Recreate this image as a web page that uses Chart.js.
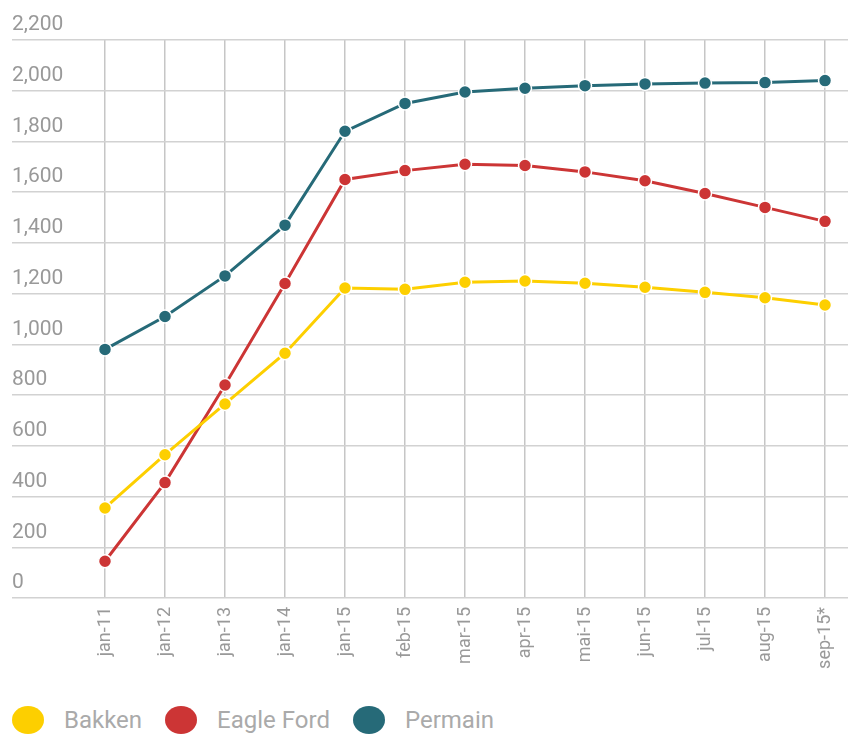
<!DOCTYPE html>
<html>
<head>
<meta charset="utf-8">
<script src="https://cdn.jsdelivr.net/npm/chart.js@4.4.0/dist/chart.umd.min.js"></script>
<style>
  html, body { margin: 0; padding: 0; background: #fff; }
  body { width: 848px; height: 734px; overflow: hidden; position: relative; font-family: Roboto, sans-serif; }
  #wrap { position: absolute; left: 0; top: 0; width: 848px; height: 690px; }
  #legend { position: absolute; left: 12px; top: 706px; display: flex; align-items: center; height: 28px; }
  .item { display: flex; align-items: center; margin-right: 23px; }
  .dot { width: 32px; height: 28px; border-radius: 50%; margin-right: 20px; }
  .txt { font-size: 24px; color: #aaaaaa; white-space: nowrap; }
</style>
</head>
<body>
<div id="wrap"><canvas id="production"></canvas></div>
<div id="legend"></div>
<script>
  var months = ["jan-11", "jan-12", "jan-13", "jan-14", "jan-15", "feb-15", "mar-15",
    "apr-15", "mai-15", "jun-15", "jul-15", "aug-15", "sep-15*"];

  var bakken = [355, 565, 765, 965, 1222, 1217, 1245, 1250, 1241, 1225, 1205, 1184, 1155];
  var eagleFord = [145, 455, 840, 1240, 1650, 1685, 1710, 1705, 1680, 1645, 1595, 1540, 1485];
  var permain = [980, 1110, 1270, 1470, 1840, 1950, 1995, 2010, 2020, 2027, 2030, 2032, 2040];

  var seriesNames = ["Bakken", "Eagle Ford", "Permain"];
  var seriesColors = ["#fdcf00", "#cc3535", "#266a78"];

  function toPoints(values) {
    return values.map(function (v, i) {
      return { x: i, y: v };
    });
  }

  function makeDataset(idx, values) {
    return {
      label: seriesNames[idx],
      data: toPoints(values),
      borderColor: seriesColors[idx],
      backgroundColor: seriesColors[idx],
      borderWidth: 3,
      pointRadius: 6.5,
      pointBorderWidth: 1.5,
      pointBorderColor: "#ffffff",
      pointBackgroundColor: seriesColors[idx],
      tension: 0,
      fill: false
    };
  }

  // legend row under the chart
  var legendEl = document.getElementById("legend");
  seriesNames.forEach(function (name, i) {
    var item = document.createElement("div");
    item.className = "item";
    var dot = document.createElement("span");
    dot.className = "dot";
    dot.style.background = seriesColors[i];
    var txt = document.createElement("span");
    txt.className = "txt";
    txt.textContent = name;
    item.appendChild(dot);
    item.appendChild(txt);
    legendEl.appendChild(item);
  });

  var labelFont = { family: "Roboto, sans-serif", size: 21 };

  new Chart(document.getElementById("production"), {
    type: "line",
    data: {
      datasets: [
        makeDataset(0, bakken),
        makeDataset(1, eagleFord),
        makeDataset(2, permain)
      ]
    },
    options: {
      responsive: true,
      maintainAspectRatio: false,
      animation: false,
      layout: { autoPadding: false, padding: { top: 40, left: 12, right: 0, bottom: 0 } },
      plugins: {
        legend: { display: false },
        tooltip: { enabled: false }
      },
      scales: {
        x: {
          type: "linear",
          min: -1.55,
          max: 12.383,
          afterBuildTicks: function (scale) {
            scale.ticks = months.map(function (m, i) {
              return { value: i };
            });
          },
          afterFit: function (scale) {
            scale.height = 92;
            scale.paddingLeft = 0;
            scale.paddingRight = 0;
          },
          grid: { color: "#c6c6c6", lineWidth: 1.5, drawTicks: false },
          border: { display: false },
          ticks: {
            autoSkip: false,
            minRotation: 90,
            maxRotation: 90,
            padding: 9,
            color: "#999999",
            font: { family: "Roboto, sans-serif", size: 18 },
            callback: function (v) {
              return months[v];
            }
          }
        },
        y: {
          min: 0,
          max: 2200,
          afterFit: function (scale) {
            scale.width = 0;
            scale.paddingTop = 0;
            scale.paddingBottom = 0;
          },
          grid: { color: "#d2d2d2", lineWidth: 1.5, drawTicks: false },
          border: { display: false },
          ticks: {
            stepSize: 200,
            mirror: true,
            padding: 0,
            labelOffset: -15,
            color: "#999999",
            font: labelFont,
            callback: function (v) {
              return v.toLocaleString("en-US");
            }
          }
        }
      }
    }
  });
</script>
</body>
</html>
